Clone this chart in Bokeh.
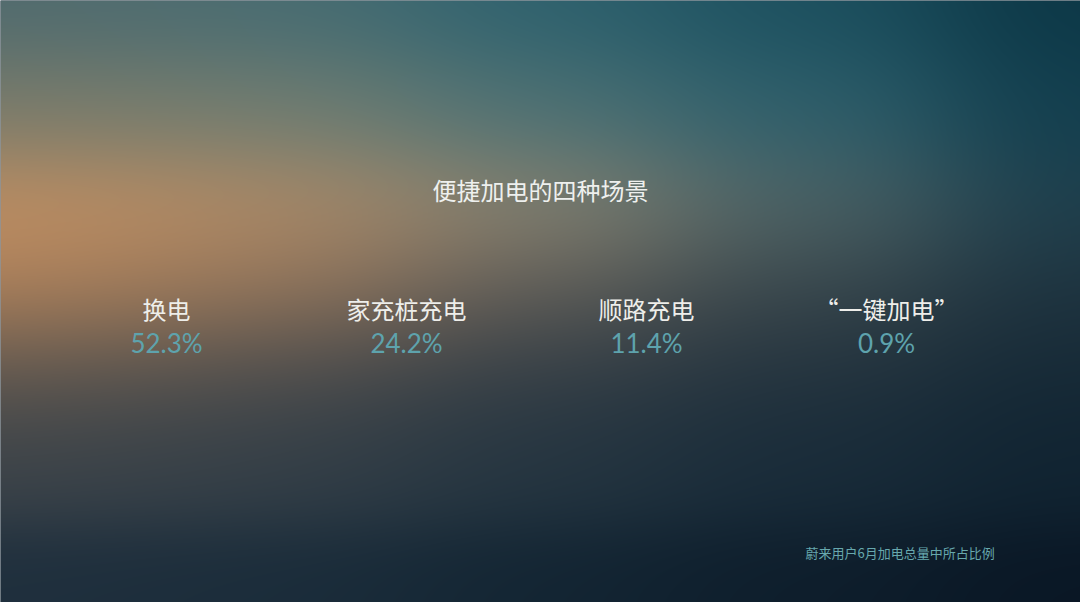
import numpy as np
from bokeh.plotting import figure
from bokeh.models import ColumnDataSource, Range1d, Label
from bokeh.core.properties import value
from bokeh.embed import file_html
from bokeh.resources import INLINE

# four ways of charging, share of June charging volume (%)
categories = ["换电", "家充桩充电", "顺路充电", "“一键加电”"]
shares = [52.3, 24.2, 11.4, 0.9]
title_text = "便捷加电的四种场景"
note_text = "蔚来用户6月加电总量中所占比例"

W, H = 1080, 602
SLOT = 240.0    # px between the scenario columns
FIRST = 166.0   # px from the left edge to the first column

CJK = "Noto Sans CJK SC"


def backdrop(w, h):
    # blurred slide background: colour anchors (px from top-left) blended softly
    xs = [0, 150, 300, 540, 800, 1080]
    rows = [
        (0,   [(80, 106, 110), (78, 108, 112), (68, 108, 115), (45, 97, 110), (28, 80, 95), (12, 55, 70)]),
        (110, [(120, 122, 106), (117, 124, 110), (106, 124, 115), (74, 112, 116), (45, 95, 108), (18, 62, 78)]),
        (210, [(200, 146, 98), (190, 143, 100), (170, 139, 106), (138, 133, 115), (80, 102, 104), (30, 64, 78)]),
        (290, [(178, 130, 90), (162, 123, 89), (138, 112, 90), (92, 90, 86), (55, 68, 74), (30, 50, 62)]),
        (370, [(100, 90, 80), (88, 84, 80), (72, 74, 76), (52, 62, 70), (36, 52, 63), (22, 42, 55)]),
        (450, [(58, 66, 73), (54, 64, 72), (47, 60, 70), (35, 52, 64), (24, 43, 57), (16, 35, 49)]),
        (602, [(32, 48, 62), (29, 46, 60), (26, 44, 58), (19, 37, 51), (14, 30, 44), (10, 23, 37)]),
    ]
    r, c = np.mgrid[0:h, 0:w]
    px = c + 0.5
    py = h - r - 0.5          # image rows run bottom-up
    acc = np.zeros((h, w, 3))
    tot = np.zeros((h, w))
    for ay, cols in rows:
        for ax, col in zip(xs, cols):
            wgt = np.exp(-((px - ax) ** 2) / (2 * 120.0 ** 2) - ((py - ay) ** 2) / (2 * 55.0 ** 2))
            acc += wgt[..., None] * np.array(col, dtype=float)
            tot += wgt
    rgb = acc / tot[..., None]
    img = np.empty((h, w), dtype=np.uint32)
    view = img.view(dtype=np.uint8).reshape((h, w, 4))
    view[..., 0] = np.clip(rgb[..., 0], 0, 255)
    view[..., 1] = np.clip(rgb[..., 1], 0, 255)
    view[..., 2] = np.clip(rgb[..., 2], 0, 255)
    view[..., 3] = 255
    return img


x0 = -FIRST / SLOT
x1 = (W - FIRST) / SLOT

p = figure(width=W, height=H, x_range=Range1d(x0, x1), y_range=Range1d(0, H),
           x_axis_type=None, y_axis_type=None, toolbar_location=None,
           output_backend="svg", min_border=0)
p.grid.visible = False
p.outline_line_color = None
p.background_fill_color = "#1a2c3a"
p.border_fill_color = "#1a2c3a"

p.image_rgba(image=[backdrop(W, H)], x=x0, y=0, dw=x1 - x0, dh=H)

source = ColumnDataSource(data=dict(
    x=list(range(len(categories))),
    name=categories,
    share=[f"{v}%" for v in shares],
    y_name=[H - 308] * len(categories),
    y_share=[H - 342] * len(categories),
))

p.text(x="x", y="y_name", text="name", source=source,
       text_align="center", text_baseline="middle",
       text_font=value(CJK), text_font_size="24px", text_color="#eeeeea")
p.text(x="x", y="y_share", text="share", source=source,
       text_align="center", text_baseline="middle",
       text_font=value("Lato"), text_font_size="26px", text_color="#5ea3ad")

p.add_layout(Label(x=540, y=H - 189, x_units="screen", y_units="screen", text=title_text,
                   text_align="center", text_baseline="middle",
                   text_font=CJK, text_font_size="24px", text_color="#eef0ee"))
p.add_layout(Label(x=805, y=H - 552, x_units="screen", y_units="screen", text=note_text,
                   text_align="left", text_baseline="middle",
                   text_font=CJK, text_font_size="13px", text_color="#67a8ad"))

open("out.html", "w").write(file_html(p, INLINE))
